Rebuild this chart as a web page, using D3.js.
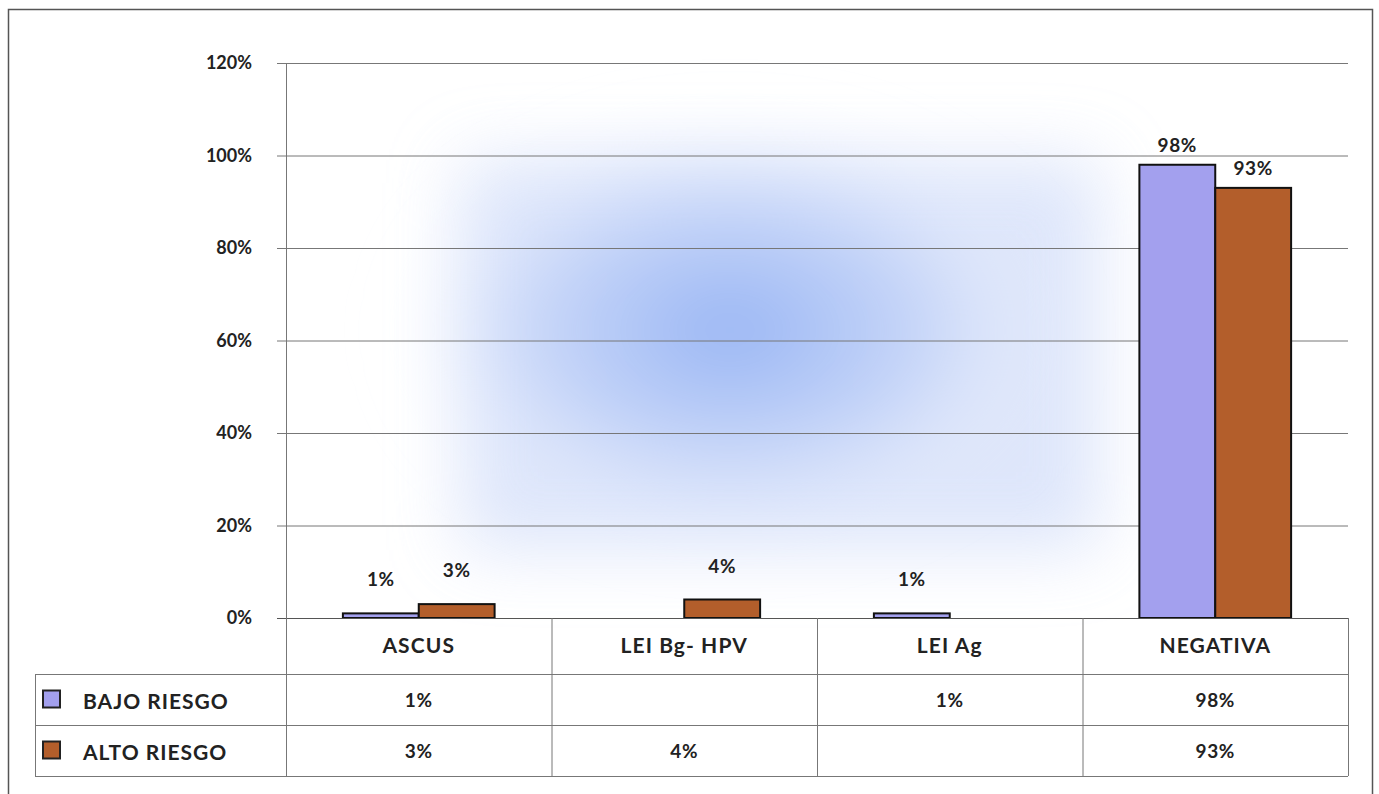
<!DOCTYPE html>
<html>
<head>
<meta charset="utf-8">
<script src="https://cdn.jsdelivr.net/npm/d3@7"></script>
<style>
  html, body { margin: 0; padding: 0; background: #fff; }
  svg { display: block; font-family: Lato, "Open Sans", sans-serif; font-weight: bold; }
</style>
</head>
<body>
<div id="chart"></div>
<script>
// data
const categories = ["ASCUS", "LEI Bg- HPV", "LEI Ag", "NEGATIVA"];
const seriesNames = ["BAJO RIESGO", "ALTO RIESGO"];
const bajoRiesgo = [1, null, 1, 98];
const altoRiesgo = [3, 4, null, 93];
const yTicks = [0, 20, 40, 60, 80, 100, 120];

const colors = ["#a3a0ee", "#b35e2b"];
const series = [bajoRiesgo, altoRiesgo];

const width = 1379, height = 794;
const plot = { left: 286, right: 1348, top: 63, bottom: 618 };
const rowH = [56, 51, 51]; // category row, then one row per series
const legendLeft = 35;

const svg = d3.select("#chart").append("svg")
  .attr("width", width)
  .attr("height", height);

// faint blue haze that shows through the scan
const defs = svg.append("defs");
const grad = defs.append("radialGradient").attr("id", "haze");
grad.append("stop").attr("offset", "0%").attr("stop-color", "#8aabf3").attr("stop-opacity", 0.9);
grad.append("stop").attr("offset", "60%").attr("stop-color", "#b6caf7").attr("stop-opacity", 0.6);
grad.append("stop").attr("offset", "100%").attr("stop-color", "#ffffff").attr("stop-opacity", 0);
defs.append("filter").attr("id", "soft")
  .attr("x", "-50%").attr("y", "-50%").attr("width", "200%").attr("height", "200%")
  .append("feGaussianBlur").attr("stdDeviation", 35);

svg.append("rect")
  .attr("x", 460).attr("y", 160)
  .attr("width", 640).attr("height", 390)
  .attr("fill", "#d3def9")
  .attr("opacity", 0.75)
  .attr("filter", "url(#soft)");
svg.append("ellipse")
  .attr("cx", 730).attr("cy", 330)
  .attr("rx", 330).attr("ry", 210)
  .attr("fill", "url(#haze)")
  .attr("filter", "url(#soft)");

// outer frame
svg.append("rect")
  .attr("x", 8.5).attr("y", 9.5)
  .attr("width", 1364).attr("height", 800)
  .attr("fill", "none")
  .attr("stroke", "#555")
  .attr("stroke-width", 1.5);

const y = d3.scaleLinear().domain([0, 120]).range([plot.bottom, plot.top]);
const x0 = d3.scaleBand().domain(categories).range([plot.left, plot.right]).padding(0);
const x1 = d3.scaleBand().domain(seriesNames).range([0, x0.bandwidth()])
  .paddingInner(0).paddingOuter(0.75);

// gridlines + y axis
const yAxis = d3.axisLeft(y)
  .tickValues(yTicks)
  .tickSize(-(plot.right - plot.left))
  .tickPadding(34)
  .tickFormat(d => d + "%");

const gy = svg.append("g")
  .attr("transform", `translate(${plot.left},0)`)
  .call(yAxis);
gy.select(".domain").attr("stroke", "#777");
gy.selectAll(".tick line")
  .attr("stroke", "#777")
  .attr("x1", -9);
gy.selectAll(".tick text")
  .attr("fill", "#222")
  .attr("font-size", 18)
  .attr("font-family", "Lato, sans-serif")
  .attr("font-weight", "bold");

// bars
const barData = [];
categories.forEach((c, i) => {
  series.forEach((s, j) => {
    if (s[i] != null) barData.push({ cat: c, name: seriesNames[j], value: s[i], k: j });
  });
});

const bars = svg.append("g");
bars.selectAll("rect")
  .data(barData)
  .join("rect")
  .attr("x", d => x0(d.cat) + x1(d.name))
  .attr("y", d => y(d.value))
  .attr("width", x1.bandwidth())
  .attr("height", d => y(0) - y(d.value))
  .attr("fill", d => colors[d.k])
  .attr("stroke", "#111")
  .attr("stroke-width", 2);

bars.selectAll("text")
  .data(barData)
  .join("text")
  .attr("x", d => x0(d.cat) + x1(d.name) + x1.bandwidth() / 2)
  .attr("y", d => y(d.value) - (d.value > 50 ? 13 : 27))
  .attr("text-anchor", "middle")
  .attr("font-size", 19)
  .attr("letter-spacing", 0.6)
  .attr("fill", "#222")
  .text(d => d.value + "%");

// data table under the plot
const rowY = [plot.bottom];
rowH.forEach(h => rowY.push(rowY[rowY.length - 1] + h));

const table = svg.append("g")
  .attr("stroke", "#777")
  .attr("stroke-width", 1);

// baseline
table.append("line")
  .attr("x1", plot.left - 9).attr("x2", plot.right)
  .attr("y1", plot.bottom + 0.5).attr("y2", plot.bottom + 0.5)
  .attr("stroke", "#555");

rowY.slice(1).forEach(yy => {
  table.append("line")
    .attr("x1", legendLeft).attr("x2", plot.right)
    .attr("y1", yy + 0.5).attr("y2", yy + 0.5);
});

categories.map(c => x0(c)).concat([plot.right]).forEach(xx => {
  table.append("line")
    .attr("x1", xx + 0.5).attr("x2", xx + 0.5)
    .attr("y1", plot.bottom).attr("y2", rowY[3]);
});
table.append("line")
  .attr("x1", legendLeft + 0.5).attr("x2", legendLeft + 0.5)
  .attr("y1", rowY[1]).attr("y2", rowY[3]);

// category labels
svg.append("g").selectAll("text")
  .data(categories)
  .join("text")
  .attr("x", d => x0(d) + x0.bandwidth() / 2)
  .attr("y", (rowY[0] + rowY[1]) / 2 + 7)
  .attr("text-anchor", "middle")
  .attr("font-size", 21)
  .attr("letter-spacing", 1.1)
  .attr("fill", "#222")
  .text(d => d);

// legend + value rows
seriesNames.forEach((name, j) => {
  const cy = (rowY[j + 1] + rowY[j + 2]) / 2;
  svg.append("rect")
    .attr("x", 43).attr("y", cy - 9)
    .attr("width", 17).attr("height", 17)
    .attr("fill", colors[j])
    .attr("stroke", "#222")
    .attr("stroke-width", 2);
  svg.append("text")
    .attr("x", 83).attr("y", cy + 9)
    .attr("font-size", 21)
    .attr("letter-spacing", 1)
    .attr("fill", "#222")
    .text(name);

  svg.append("g").selectAll("text")
    .data(categories.map((c, i) => ({ c, v: series[j][i] })).filter(d => d.v != null))
    .join("text")
    .attr("x", d => x0(d.c) + x0.bandwidth() / 2)
    .attr("y", cy + 7)
    .attr("text-anchor", "middle")
    .attr("font-size", 19)
    .attr("letter-spacing", 0.6)
    .attr("fill", "#222")
    .text(d => d.v + "%");
});
</script>
</body>
</html>
